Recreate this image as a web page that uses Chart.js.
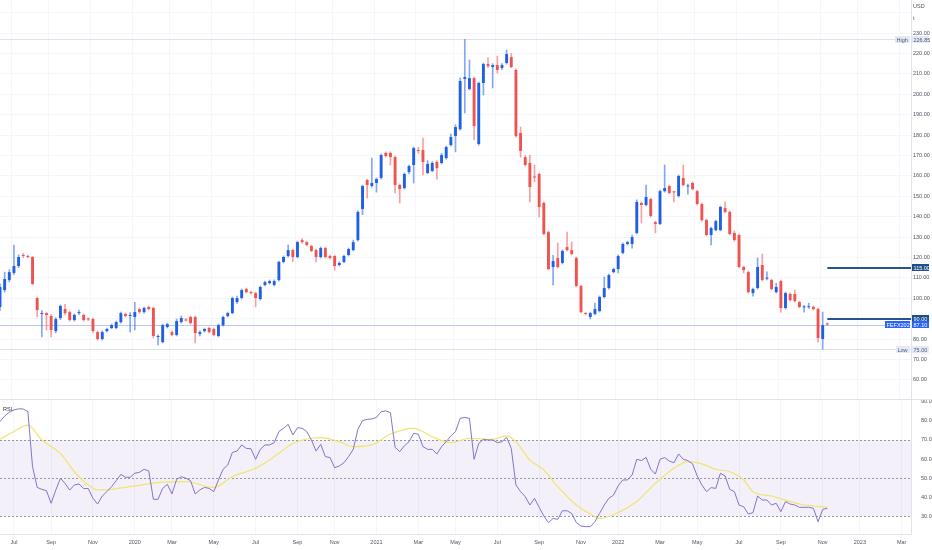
<!DOCTYPE html>
<html>
<head>
<meta charset="utf-8">
<script src="https://cdn.jsdelivr.net/npm/chart.js@4.4.1/dist/chart.umd.min.js"></script>
<style>
  html, body { margin: 0; padding: 0; background: #fff; }
  #wrap { position: relative; width: 932px; height: 550px; overflow: hidden; }
  #price { position: absolute; left: 0; top: 0; }
  #rsi { position: absolute; left: 0; top: 399px; }
</style>
</head>
<body>
<div id="wrap">
  <canvas id="price" width="932" height="399"></canvas>
  <canvas id="rsi" width="932" height="151"></canvas>
</div>
<script>
// weekly candles, first week 2019-06-10
const opens = [
  95.7,104.0,108.9,112.4,115.8,121.2,120.7,120.2,100.1,92.3,
  92.7,91.3,83.9,90.3,94.7,93.2,89.3,92.7,91.8,89.8,
  89.8,83.4,80.0,83.9,85.4,85.4,88.3,92.3,91.3,90.8,
  94.7,93.2,95.7,95.2,81.0,78.5,85.9,83.4,82.0,88.3,
  89.5,90.8,90.8,82.5,83.9,85.4,84.9,81.5,86.8,91.3,
  92.7,98.1,100.1,104.5,103.0,102.5,99.6,106.5,107.4,106.5,
  108.9,117.8,120.7,123.6,120.2,128.5,127.5,125.6,123.6,120.2,
  124.6,120.7,120.7,116.3,117.8,121.2,123.6,128.5,143.7,157.9,
  155.0,156.5,159.0,171.2,171.2,169.2,155.5,154.0,161.9,165.3,
  172.6,172.6,161.4,162.4,166.8,166.3,168.7,175.1,179.5,182.9,
  207.5,202.6,207.9,175.6,205.5,214.8,213.3,214.3,212.9,215.3,
  218.2,211.9,181.0,169.2,166.3,159.6,160.9,146.7,132.4,115.3,
  119.7,117.3,125.1,123.6,119.7,106.0,92.6,90.8,92.3,93.7,
  100.6,105.0,112.8,114.3,122.2,126.6,126.6,132.0,146.7,145.7,
  148.6,137.3,136.4,152.5,155.0,152.3,150.1,158.9,154.8,156.5,
  152.5,146.2,138.3,131.0,133.4,133.4,144.2,142.3,132.0,131.0,
  115.3,112.8,102.5,105.0,116.3,109.6,108.9,103.0,108.4,95.2,
  102.1,102.1,98.1,95.5,95.6,95.7,94.7,80.0,87.6
];
const highs = [
  107,112.8,114,126.1,121.2,122,121.2,120.5,100.5,94,
  93,92,90.5,96.7,97,93.7,92.3,94.2,92.3,90.3,
  90.3,84,84,85.4,87.3,88.8,93.2,92.7,93,98,
  95.2,95.7,96.2,95.7,82,87.3,87.8,84,89.8,91.3,
  90,91.3,91.3,84,85.4,85.9,85.4,87.3,91.3,93.2,
  100.6,101,104.5,105,103.5,103,106,108.4,108.9,109,
  118.2,120.7,126.1,124.1,128,129.3,128,126.1,124.1,125.1,
  125.1,121.2,121.2,117.8,121.2,124.6,128.5,142.8,155.5,158.4,
  168.7,159,170.7,171.7,171.7,169.7,156,161.4,165.3,174.1,
  174,178.5,167.5,167,167.5,171,174.6,180.5,185,208,
  226.85,216.8,208.4,206,215.3,217.8,215,218.7,215,221.7,
  220,212.4,183.9,170,170,165.3,161.4,147.2,132.9,121,
  127.1,123.7,132.4,127.6,120.2,106.5,93,93.2,97.6,101.1,
  110.4,111.9,114.8,121.2,127.1,128,131,148.2,147.2,155.5,
  149.1,137.8,153,165.3,155.5,152.5,160.4,165.3,156,157,
  153,146.7,138.8,134.9,138.3,145.2,147.2,142.8,133,131.5,
  115.8,113.3,105,119.7,121.7,113,109.4,107.4,108.9,103,
  102.6,104,98.6,96.5,97.6,96.2,95.2,93.2,88
];
const lows = [
  94,103,108,111.5,115,120,119.7,106.5,90.8,81.0,
  84.4,81.0,83,89.5,92,88.8,88.8,92,88.8,89,
  83,79.5,79.5,83.4,85,85,87.8,90.8,83.4,84.4,
  92.7,92.7,94.2,80.5,77.1,78,85.4,81.5,81.5,87.8,
  88.8,87.3,78.1,81.5,83.4,83,81.5,81,86.3,90.8,
  92.3,97.5,99.6,102.5,102,95.7,99.1,106,107,106,
  108.4,117.3,120.2,118,119.7,127,125.6,122.7,117.8,119.7,
  119.7,119.2,113.8,115.8,117.3,120.7,123.2,128,141,149.1,
  154.5,152,158.4,169.2,165.3,151.6,146.7,153.5,160.9,156.5,
  171,160.4,161,162,158.4,165.8,168.2,174.6,171.7,182.4,
  190.8,202,177.6,175,199.6,213,203.1,210.4,212,214.8,
  213,179,169.2,164.8,147.2,157,139.8,131,113.8,106.5,
  114.8,116.8,123.2,121.2,105.5,92.8,91.8,89.8,91.8,93.2,
  100.1,104.5,112.4,112.4,121.7,126.1,124.6,131.5,136.9,145.2,
  139.8,132,136,152,151.1,147.2,149.6,155,151,153,
  145.7,137.8,130.5,126.1,133,133,141.8,131,128,114.8,
  112.4,102.5,101,104.5,108.4,109,104,102.5,93.2,94.7,
  98.6,98.1,95.2,93.2,95,94.2,78.5,75.0,86.8
];
const closes = [
  105.5,109.4,112.8,115.8,120.2,120.7,120.2,107.0,94.2,92.7,
  91.8,84.4,89.8,96.2,92.7,89.3,91.8,93.2,89.3,89.6,
  83.9,80.0,83.4,84.9,86.8,88.3,92.7,91.3,91.8,93.2,
  93.2,95.2,94.7,81.5,81.5,86.8,87.3,82.0,88.8,90.3,
  89.1,87.8,82.9,83.4,84.9,83.4,82.0,86.8,90.8,92.7,
  100.1,100.1,104.0,103.0,102.5,100.1,105.5,107.9,108.4,108.4,
  117.8,120.2,123.6,120.2,127.5,127.5,126.1,123.2,120.2,124.6,
  120.2,119.7,115.8,117.3,120.7,124.1,127.5,142.3,155.0,155.5,
  156.5,158.4,170.2,169.7,169.2,155.5,153.5,160.9,164.8,173.6,
  172.2,166.8,165.8,166.3,163.8,170.2,174.1,179.0,183.9,206.5,
  208.4,207.9,184.4,205.5,214.8,213.8,214.3,211.9,214.3,219.7,
  213.3,179.5,172.2,165.3,154.5,159.2,144.7,131.5,114.3,118.2,
  115.3,123.2,123.6,121.7,106.0,93.2,92.3,92.7,94.7,100.6,
  105.0,111.4,114.3,120.7,126.6,127.5,130.0,147.2,145.7,149.6,
  140.3,136.4,152.5,154.0,151.6,151.9,159.9,155.5,155.2,153.5,
  146.2,138.3,131.0,134.4,137.8,144.7,142.3,131.5,128.5,115.3,
  113.8,103.0,104.5,115.3,108.9,110.1,104.5,105.5,95.2,102.5,
  99.1,98.6,95.7,95.9,96.0,94.7,80.5,86.8,87.1
];

// RSI(14) per week and its moving average (read at the visible turns)
const rsi = [
  79.6,82.5,84.5,85.7,86.3,86.2,84.8,56,45.2,44.2,
  43.5,36.9,43.8,50,47.3,43.8,46.5,47,44.6,44.6,
  39.5,36.5,40.7,43,45.6,48.7,52,50.5,50.5,52.6,
  53.1,54.7,53.8,39,39,44.7,46.8,41.8,49.4,50.8,
  50,48.7,41.8,43.9,45.2,44.7,43,49.1,54.7,56.9,
  63.5,64.2,67.4,65.6,65.4,59.9,65.1,67.4,67.4,68.6,
  74.4,76.1,78.2,72.6,76.4,76.1,74.4,70,64.2,67.7,
  61.3,60.8,55.5,56.4,58.1,61.3,65.1,75.6,80.1,80.8,
  81,81.8,84.8,85.2,84.3,66.2,63.9,66.9,69.1,73.5,
  73,66.5,65.1,65.1,62.7,66.5,69.1,72.1,74.4,81.3,
  81.8,81.3,59.9,68.2,70.3,70,70,68.6,69.1,71.4,
  65.6,46.5,43,40.4,36,39.5,34.8,30.3,26.8,29,
  28.5,33,33,31.6,26.8,25,24.7,24.7,27.3,31.6,
  36,39.5,41.2,46,49.1,49.1,51.7,59.9,59.2,60.9,
  54.7,52.2,59.9,60.8,59,58.1,62.7,59.9,59.2,57.5,
  51.2,46.5,43,45.1,44.7,52.6,51.2,44.2,43,36,
  35.1,31.3,32,40.7,38.6,38.6,36,36.9,32.5,37.8,
  36.5,36,34.8,34.8,34.8,34.3,27.3,33.7,34.3
];
const maWeeks = [0,3,6,9,13,16,19,21,24,29,34,40,46,50,55,59,63,67,69,73,
  76,80,84,89,93,97,101,106,109,111,114,117,120,124,127,129,133,137,141,145,
  148,151,154,157,160,162,166,170,173,175,178];
const maValues = [70.4,74.4,77.8,70,63,53.4,46.5,43.9,44.2,46,47.7,48.2,45.2,50.8,55.2,61.3,68.2,70.9,71.2,69.1,
  66.5,67.4,73.1,76.1,71.7,68.6,70.9,70.3,72.1,69.1,59.5,54.3,45.6,36,31.3,29,32,37.8,47.3,55.2,
  58.7,57.5,54.7,53.4,49.1,43,40.7,37.8,36,35.5,34.8];
const rsiBands = [70, 50, 30];

const tickLabels = ["Jul","Sep","Nov","2020","Mar","May","Jul","Sep","Nov","2021","Mar","May",
  "Jul","Sep","Nov","2022","Mar","May","Jul","Sep","Nov","2023","Mar"];

const highMark = 226.85;
const lowMark = 75.00;
const lastPrice = 87.10;
const symbol = "FEFX2022";
const keyLevels = [115.00, 90.00];

// ---- categories (weeks) ----
const DAY = 864e5;
const firstWeek = Date.UTC(2019, 5, 10);
const weekCount = 197;
const weeks = [];
for (let i = 0; i < weekCount; i++) weeks.push(new Date(firstWeek + i * 7 * DAY));
const weekLabels = weeks.map(d => d.toISOString().slice(0, 10));

// a tick on the week that holds the 1st of every second month
const tickText = weeks.map(() => "");
let t = 0;
weeks.forEach((d, i) => {
  for (let k = 0; k < 7; k++) {
    const day = new Date(d.getTime() + k * DAY);
    if (day.getUTCDate() === 1 && day.getUTCMonth() % 2 === 0 && t < tickLabels.length) {
      tickText[i] = tickLabels[t++];
    }
  }
});

const BLUE = "#1f5fe6";
const RED = "#ef5350";
const GRID = "#f5f6f9";
const FONT_FAMILY = "'Liberation Sans', Arial, sans-serif";
const FONT = "5.5px " + FONT_FAMILY;
const TXT = "#50535e";

const up = closes.map((c, i) => c >= opens[i]);
const lastIdx = closes.length - 1;

function hLine(ctx, x1, x2, y, color, width) {
  ctx.strokeStyle = color;
  ctx.lineWidth = width;
  const yy = width % 2 ? Math.round(y) + 0.5 : Math.round(y);
  ctx.beginPath();
  ctx.moveTo(x1, yy);
  ctx.lineTo(x2, yy);
  ctx.stroke();
}

function tag(ctx, x, y, w, text, bg, fg) {
  const h = 7;
  ctx.fillStyle = bg;
  ctx.fillRect(x, Math.round(y - h / 2), w, h);
  ctx.fillStyle = fg;
  ctx.font = FONT;
  ctx.textBaseline = "middle";
  ctx.textAlign = "left";
  ctx.fillText(text, x + 1.5, Math.round(y - h / 2) + h / 2 + 0.5);
}

const priceMarks = {
  id: "priceMarks",
  beforeDatasetsDraw(chart) {
    const { ctx, chartArea: a, scales: { y } } = chart;
    ctx.save();
    hLine(ctx, a.left, a.right, y.getPixelForValue(highMark), "#dde1ec", 1);
    hLine(ctx, a.left, a.right, y.getPixelForValue(lowMark), "#dde1ec", 1);
    hLine(ctx, a.left, a.right, y.getPixelForValue(lastPrice), "#b9caf7", 1);
    ctx.restore();
  },
  afterDraw(chart) {
    const { ctx, chartArea: a, scales: { x, y } } = chart;
    const ax = y.left + 1;
    ctx.save();
    keyLevels.forEach(v => {
      hLine(ctx, x.getPixelForValue(lastIdx), a.right, y.getPixelForValue(v), "#245591", 2);
      tag(ctx, ax, y.getPixelForValue(v), 17, v.toFixed(2), "#1f4f8a", "#fff");
    });
    const yh = y.getPixelForValue(highMark);
    tag(ctx, a.right - 16, yh, 15, "High", "#e4e9f5", "#4d5b78");
    tag(ctx, ax, yh, 17, highMark.toFixed(2), "#e4e9f5", "#4d5b78");
    const yl = y.getPixelForValue(lowMark);
    tag(ctx, a.right - 15, yl, 14, "Low", "#e4e9f5", "#4d5b78");
    tag(ctx, ax, yl, 17, lowMark.toFixed(2), "#e4e9f5", "#4d5b78");
    const yp = y.getPixelForValue(lastPrice);
    tag(ctx, a.right - 26, yp, 25, symbol, "#2962ff", "#fff");
    tag(ctx, ax, yp, 17, lastPrice.toFixed(2), "#2962ff", "#fff");
    ctx.fillStyle = TXT;
    ctx.font = FONT;
    ctx.textAlign = "left";
    ctx.textBaseline = "middle";
    ctx.fillText("USD", ax + 1, 6);
    ctx.fillText("t", ax + 1, 18);
    ctx.restore();
  }
};

const rsiMarks = {
  id: "rsiMarks",
  beforeDatasetsDraw(chart) {
    const { ctx, chartArea: a, scales: { y } } = chart;
    ctx.save();
    const y70 = y.getPixelForValue(rsiBands[0]);
    const y30 = y.getPixelForValue(rsiBands[2]);
    ctx.fillStyle = "rgba(126,87,194,0.09)";
    ctx.fillRect(a.left, y70, a.right - a.left, y30 - y70);
    ctx.setLineDash([2, 2]);
    rsiBands.forEach(v => hLine(ctx, a.left, a.right, y.getPixelForValue(v), "#9598a3", 1));
    ctx.restore();
  },
  afterDraw(chart) {
    const { ctx } = chart;
    ctx.save();
    hLine(ctx, 0, chart.width, 0, "#e0e3eb", 1);
    ctx.fillStyle = "#333";
    ctx.font = FONT;
    ctx.textAlign = "left";
    ctx.textBaseline = "middle";
    ctx.fillText("RSI", 3, 10);
    ctx.restore();
  }
};

const monthGrid = ctx => (tickText[ctx.index] ? GRID : "transparent");

new Chart(document.getElementById("price"), {
  data: {
    labels: weekLabels,
    datasets: [
      {
        type: "bar",
        data: opens.map((o, i) => [o, closes[i]]),
        backgroundColor: up.map(u => (u ? BLUE : RED)),
        categoryPercentage: 1,
        barPercentage: 0.62,
        minBarLength: 1,
        grouped: false,
        order: 1
      },
      {
        type: "bar",
        data: lows.map((l, i) => [l, highs[i]]),
        backgroundColor: up.map(u => (u ? "rgba(31,95,230,0.55)" : "rgba(239,83,80,0.55)")),
        barThickness: 1,
        grouped: false,
        order: 2
      }
    ]
  },
  options: {
    responsive: false,
    animation: false,
    layout: { padding: 0 },
    plugins: { legend: { display: false }, tooltip: { enabled: false } },
    scales: {
      x: {
        offset: false,
        ticks: { display: false },
        grid: { color: monthGrid, drawTicks: false },
        border: { display: false },
        afterFit: s => { s.height = 0; s.paddingLeft = 0; s.paddingRight = 0; }
      },
      y: {
        position: "right",
        min: 50.6,
        max: 246.2,
        ticks: {
          stepSize: 10,
          includeBounds: false,
          padding: 2,
          color: TXT,
          font: { size: 5.5, family: FONT_FAMILY },
          callback: v => (v > 230 ? "" : v.toFixed(2))
        },
        grid: { color: GRID, drawTicks: false },
        border: { color: "#e0e3eb" },
        afterFit: s => { s.width = 21; s.paddingTop = 0; s.paddingBottom = 0; }
      }
    }
  },
  plugins: [priceMarks]
});

const maData = weekLabels.map(() => null);
maWeeks.forEach((w, i) => { maData[w] = maValues[i]; });

new Chart(document.getElementById("rsi"), {
  type: "line",
  data: {
    labels: weekLabels,
    datasets: [
      {
        data: rsi,
        borderColor: "#8474c9",
        borderWidth: 1,
        pointRadius: 0,
        tension: 0,
        order: 1
      },
      {
        data: maData,
        spanGaps: true,
        borderColor: "#f2e46e",
        borderWidth: 1.2,
        pointRadius: 0,
        cubicInterpolationMode: "monotone",
        order: 2
      }
    ]
  },
  options: {
    responsive: false,
    animation: false,
    layout: { padding: 0 },
    plugins: { legend: { display: false }, tooltip: { enabled: false } },
    scales: {
      x: {
        offset: false,
        ticks: {
          autoSkip: false,
          maxRotation: 0,
          padding: 5,
          color: TXT,
          font: { size: 5.5, family: FONT_FAMILY },
          callback: (v, i) => tickText[i]
        },
        grid: { color: monthGrid, drawTicks: false },
        border: { color: "#e0e3eb" },
        afterFit: s => { s.height = 16; s.paddingLeft = 0; s.paddingRight = 0; }
      },
      y: {
        position: "right",
        min: 20.85,
        max: 91.42,
        ticks: {
          stepSize: 10,
          includeBounds: false,
          padding: 2,
          color: TXT,
          font: { size: 5.5, family: FONT_FAMILY },
          callback: v => v.toFixed(2)
        },
        grid: { display: false },
        border: { color: "#e0e3eb" },
        afterFit: s => { s.width = 21; s.paddingTop = 0; s.paddingBottom = 0; }
      }
    }
  },
  plugins: [rsiMarks]
});
</script>
</body>
</html>
